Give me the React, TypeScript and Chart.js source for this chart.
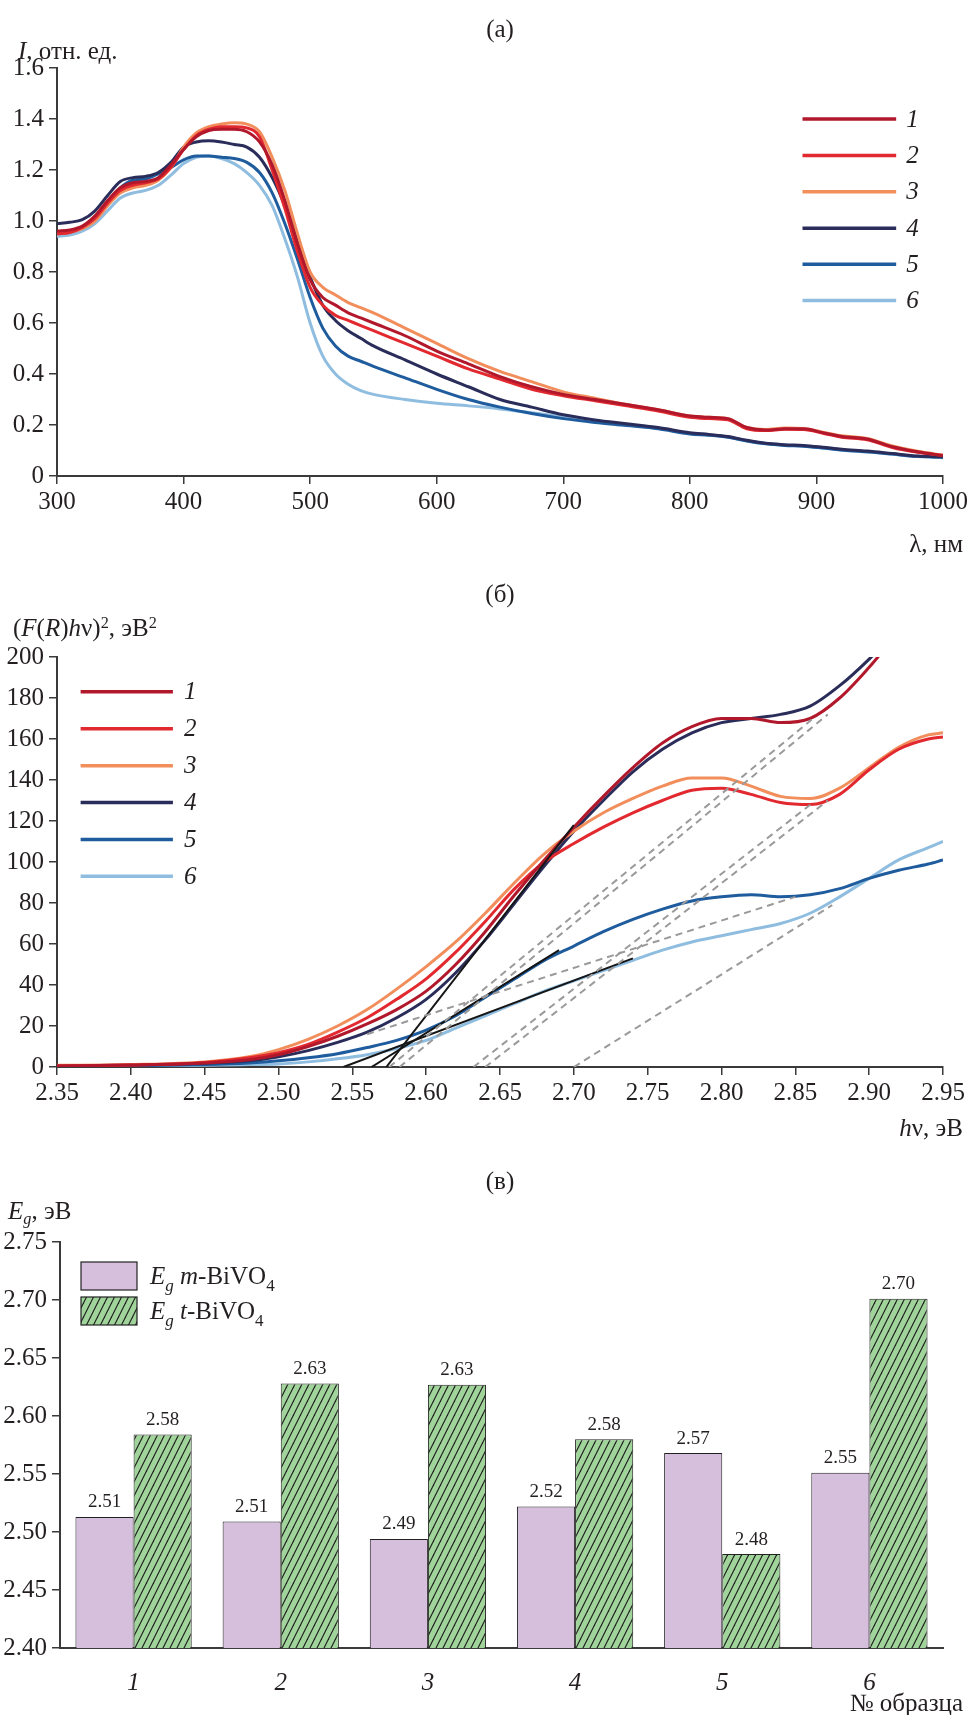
import React, { useEffect, useRef } from "react";
import { Chart, registerables } from "chart.js";

Chart.register(...registerables);

const FONT = "'Liberation Serif', 'Times New Roman', Times, serif";
const INK = "#231f20";
const AXIS = "#3a3a3a";

Chart.defaults.font.family = FONT;
Chart.defaults.color = INK;

// ---------- (а) diffuse reflectance spectra ----------
const wavelengthNm = [300, 310, 320, 330, 340, 350, 360, 370, 380, 390, 400, 410, 420, 430, 440, 450, 460, 470, 480, 490, 500, 510, 520, 530, 540, 550, 575, 600, 625, 650, 675, 700, 725, 750, 775, 800, 815, 830, 845, 860, 875, 890, 905, 920, 940, 960, 980, 1000];
const spectrum1 = [0.96, 0.965, 0.98, 1.02, 1.08, 1.13, 1.15, 1.155, 1.17, 1.22, 1.28, 1.33, 1.355, 1.36, 1.36, 1.35, 1.31, 1.22, 1.08, 0.91, 0.77, 0.70, 0.67, 0.64, 0.62, 0.60, 0.55, 0.49, 0.44, 0.39, 0.35, 0.32, 0.30, 0.28, 0.26, 0.235, 0.23, 0.225, 0.19, 0.18, 0.185, 0.185, 0.17, 0.155, 0.145, 0.115, 0.095, 0.08];
const spectrum2 = [0.95, 0.955, 0.975, 1.01, 1.07, 1.12, 1.14, 1.15, 1.165, 1.21, 1.28, 1.335, 1.36, 1.37, 1.37, 1.365, 1.33, 1.20, 1.05, 0.88, 0.74, 0.67, 0.63, 0.61, 0.59, 0.57, 0.52, 0.47, 0.42, 0.38, 0.34, 0.315, 0.295, 0.275, 0.255, 0.23, 0.225, 0.22, 0.185, 0.178, 0.183, 0.182, 0.168, 0.152, 0.142, 0.112, 0.093, 0.08];
const spectrum3 = [0.95, 0.955, 0.97, 1.0, 1.06, 1.11, 1.13, 1.14, 1.16, 1.21, 1.29, 1.345, 1.37, 1.38, 1.385, 1.38, 1.35, 1.25, 1.12, 0.95, 0.80, 0.74, 0.71, 0.68, 0.66, 0.64, 0.58, 0.52, 0.46, 0.41, 0.37, 0.33, 0.305, 0.28, 0.26, 0.235, 0.23, 0.225, 0.19, 0.182, 0.188, 0.186, 0.172, 0.158, 0.147, 0.118, 0.097, 0.082];
const spectrum4 = [0.99, 0.995, 1.005, 1.04, 1.10, 1.155, 1.17, 1.175, 1.19, 1.23, 1.29, 1.31, 1.315, 1.31, 1.30, 1.29, 1.25, 1.17, 1.06, 0.92, 0.78, 0.67, 0.61, 0.57, 0.54, 0.51, 0.455, 0.40, 0.35, 0.30, 0.27, 0.24, 0.22, 0.205, 0.19, 0.17, 0.163, 0.155, 0.14, 0.128, 0.123, 0.12, 0.113, 0.105, 0.098, 0.088, 0.078, 0.075];
const spectrum5 = [0.955, 0.96, 0.975, 1.01, 1.07, 1.13, 1.16, 1.165, 1.185, 1.21, 1.24, 1.255, 1.255, 1.25, 1.245, 1.23, 1.19, 1.11, 0.99, 0.85, 0.70, 0.58, 0.51, 0.47, 0.45, 0.43, 0.385, 0.34, 0.30, 0.27, 0.245, 0.225, 0.21, 0.198, 0.185, 0.165, 0.16, 0.152, 0.137, 0.126, 0.12, 0.117, 0.11, 0.102, 0.095, 0.086, 0.077, 0.074];
const spectrum6 = [0.94, 0.945, 0.96, 0.99, 1.04, 1.09, 1.11, 1.12, 1.14, 1.18, 1.225, 1.25, 1.255, 1.245, 1.225, 1.19, 1.14, 1.06, 0.93, 0.78, 0.60, 0.47, 0.40, 0.36, 0.335, 0.32, 0.30, 0.285, 0.275, 0.263, 0.248, 0.232, 0.215, 0.20, 0.187, 0.167, 0.161, 0.153, 0.138, 0.127, 0.121, 0.117, 0.11, 0.101, 0.094, 0.085, 0.076, 0.072];

const seriesNames = ["1", "2", "3", "4", "5", "6"];
const seriesColors = ["#b2182b", "#e2292f", "#f28e5c", "#2a2c5a", "#1f5c9e", "#8fbde0"];

// ---------- (б) Tauc plots ----------
const photonEnergyEv = [2.35, 2.40, 2.45, 2.48, 2.50, 2.52, 2.54, 2.56, 2.58, 2.60, 2.62, 2.64, 2.66, 2.68, 2.70, 2.72, 2.74, 2.76, 2.78, 2.80, 2.82, 2.84, 2.86, 2.88, 2.90, 2.92, 2.94, 2.95];
const tauc1 = [0.5, 1, 2, 3.5, 6, 10, 15, 21, 28, 37, 50, 66, 84, 101, 117, 132, 146, 158, 166, 170, 170, 168, 170, 180, 195, 212, 226, 232];
const tauc2 = [0.6, 1, 2.2, 4.5, 7, 11, 17, 24, 33, 43, 56, 71, 87, 100, 109, 117, 124, 130, 135, 136, 133, 129, 128, 133, 145, 155, 160, 161];
const tauc3 = [0.8, 1.2, 2.5, 5, 8.5, 13.5, 20, 28, 38, 49, 61, 75, 90, 104, 115, 124, 131, 137, 141, 141, 137, 132, 131, 136, 146, 156, 162, 163];
const tauc4 = [0.5, 1, 1.8, 3, 5, 8, 12, 17, 24, 33, 46, 62, 80, 98, 115, 130, 144, 155, 163, 168, 170, 172, 176, 186, 199, 214, 228, 234];
const tauc5 = [0.3, 0.6, 1.2, 2, 3, 4.5, 6.5, 9.5, 13, 18, 25, 34, 43, 52, 59, 66, 72, 77, 81, 83, 84, 83, 84, 87, 92, 96, 99, 101];
const tauc6 = [0.2, 0.4, 0.8, 1.2, 1.5, 2.5, 4, 6, 9, 13, 19, 25, 31, 37, 42, 47, 52, 57, 61, 64, 67, 70, 75, 83, 92, 101, 107, 110];

// solid tangents (m-BiVO4 edge)
const mEdgeStartEv = [2.573, 2.563, 2.544];
const mEdgeEndEv = [2.70, 2.69, 2.74];
const mEdgeEndValue = [118, 57, 53];
// dashed tangents (t-BiVO4 edge)
const tEdgeStartEv = [2.575, 2.582, 2.632, 2.640, 2.56, 2.70];
const tEdgeStartValue = [0, 0, 0, 0, 16, 0];
const tEdgeEndEv = [2.862, 2.872, 2.862, 2.872, 2.85, 2.875];
const tEdgeEndValue = [170, 172, 129, 130, 83, 79];

// ---------- (в) band gaps ----------
const sampleLabels = ["1", "2", "3", "4", "5", "6"];
const egMonoclinic = [2.513, 2.509, 2.494, 2.522, 2.568, 2.551];
const egTetragonal = [2.584, 2.628, 2.627, 2.580, 2.481, 2.701];

type Seg = { t: string; i?: boolean; sub?: boolean };

function drawRich(ctx: CanvasRenderingContext2D, segs: Seg[], x: number, y: number, size: number) {
  let cx = x;
  for (const s of segs) {
    const fs = s.sub ? Math.round(size * 0.66) : size;
    ctx.font = `${s.i ? "italic " : ""}${fs}px ${FONT}`;
    ctx.fillText(s.t, cx, y + (s.sub ? size * 0.28 : 0));
    cx += ctx.measureText(s.t).width;
  }
}

function makeLineLegend(rows: number[], x0: number, x1: number, xl: number) {
  return {
    id: "lineLegend",
    afterDatasetsDraw(chart: any) {
      const { ctx } = chart;
      const xs = chart.scales.x;
      const ys = chart.scales.y;
      ctx.save();
      rows.forEach((rv, i) => {
        const ds = chart.data.datasets[i];
        const py = ys.getPixelForValue(rv);
        ctx.setLineDash([]);
        ctx.strokeStyle = ds.borderColor;
        ctx.lineWidth = 3.5;
        ctx.beginPath();
        ctx.moveTo(xs.getPixelForValue(x0), py);
        ctx.lineTo(xs.getPixelForValue(x1), py);
        ctx.stroke();
        ctx.fillStyle = INK;
        ctx.font = `italic 25px ${FONT}`;
        ctx.textAlign = "left";
        ctx.textBaseline = "middle";
        ctx.fillText(ds.label, xs.getPixelForValue(xl), py + 1);
      });
      ctx.restore();
    },
  };
}

function linAxis(min: number, max: number, step: number, fmt: (v: number) => string, fit: number, isX: boolean) {
  return {
    type: "linear" as const,
    min,
    max,
    ticks: {
      stepSize: step,
      color: INK,
      font: { family: FONT, size: 25 },
      padding: isX ? 3 : 5,
      maxRotation: 0,
      autoSkip: false,
      callback: (v: any) => fmt(Number(v)),
    },
    grid: { drawOnChartArea: false, drawTicks: true, tickLength: 8, color: AXIS, lineWidth: 1.5 },
    border: { display: true, color: AXIS, width: 2 },
    afterFit: (s: any) => {
      if (isX) s.height = fit;
      else s.width = fit;
    },
  };
}

function makeHatch(): CanvasPattern | string {
  const c = document.createElement("canvas");
  c.width = 7;
  c.height = 14;
  const g = c.getContext("2d");
  if (!g) return "#a0d49b";
  g.fillStyle = "#a0d49b";
  g.fillRect(0, 0, 7, 14);
  g.strokeStyle = "#1e1e1e";
  g.lineWidth = 1.1;
  for (const off of [-7, 0, 7]) {
    g.beginPath();
    g.moveTo(off - 1, 16);
    g.lineTo(off + 8, -2);
    g.stroke();
  }
  return g.createPattern(c, "repeat") || "#a0d49b";
}

const Label = ({ x, y, align = "left", children, size = 25 }: any) => (
  <div
    style={{
      position: "absolute",
      left: x,
      top: y,
      transform: `translate(${align === "center" ? "-50%" : align === "right" ? "-100%" : "0"}, -50%)`,
      whiteSpace: "nowrap",
      fontFamily: FONT,
      fontSize: size,
      color: INK,
      lineHeight: 1,
    }}
  >
    {children}
  </div>
);

const Sup = ({ children }: any) => (
  <span style={{ fontSize: "0.65em", position: "relative", top: "-0.5em" }}>{children}</span>
);
const Sub = ({ children }: any) => (
  <span style={{ fontSize: "0.65em", position: "relative", top: "0.3em" }}>{children}</span>
);

export default function App() {
  const refA = useRef<HTMLCanvasElement>(null);
  const refB = useRef<HTMLCanvasElement>(null);
  const refC = useRef<HTMLCanvasElement>(null);

  useEffect(() => {
    const charts: Chart[] = [];
    const common = {
      responsive: false,
      animation: false as const,
      events: [] as any[],
    };

    // ----- (а)
    const spectra = [spectrum1, spectrum2, spectrum3, spectrum4, spectrum5, spectrum6];
    if (refA.current) {
      charts.push(
        new Chart(refA.current, {
          type: "line",
          data: {
            datasets: spectra.map((vals, i) => ({
              label: seriesNames[i],
              data: vals.map((v, k) => ({ x: wavelengthNm[k], y: v })),
              borderColor: seriesColors[i],
              borderWidth: 3,
              pointRadius: 0,
              cubicInterpolationMode: "monotone" as const,
              fill: false,
            })),
          },
          options: {
            ...common,
            layout: { autoPadding: false, padding: { top: 68, right: 28, left: 0, bottom: 0 } },
            plugins: { legend: { display: false }, tooltip: { enabled: false } },
            scales: {
              x: linAxis(300, 1000, 100, (v) => String(Math.round(v)), 44, true),
              y: linAxis(0, 1.6, 0.2, (v) => (Math.abs(v) < 1e-9 ? "0" : v.toFixed(1)), 57, false),
            },
          } as any,
          plugins: [makeLineLegend([1.40, 1.257, 1.115, 0.972, 0.83, 0.688], 889, 963, 971)],
        })
      );
    }

    // ----- (б)
    const taucs = [tauc1, tauc2, tauc3, tauc4, tauc5, tauc6];
    if (refB.current) {
      const curveSets = taucs.map((vals, i) => ({
        label: seriesNames[i],
        data: vals.map((v, k) => ({ x: photonEnergyEv[k], y: v })),
        borderColor: seriesColors[i],
        borderWidth: 3,
        pointRadius: 0,
        cubicInterpolationMode: "monotone" as const,
        fill: false,
        order: 2,
      }));
      const solidSets = mEdgeStartEv.map((x0, i) => ({
        label: "m" + i,
        data: [
          { x: x0, y: 0 },
          { x: mEdgeEndEv[i], y: mEdgeEndValue[i] },
        ],
        borderColor: "#151515",
        borderWidth: 2,
        pointRadius: 0,
        tension: 0,
        fill: false,
        order: 1,
      }));
      const dashedSets = tEdgeStartEv.map((x0, i) => ({
        label: "t" + i,
        data: [
          { x: x0, y: tEdgeStartValue[i] },
          { x: tEdgeEndEv[i], y: tEdgeEndValue[i] },
        ],
        borderColor: "#9a9a9a",
        borderWidth: 2,
        borderDash: [7, 5],
        pointRadius: 0,
        tension: 0,
        fill: false,
        order: 0,
      }));
      charts.push(
        new Chart(refB.current, {
          type: "line",
          data: { datasets: [...curveSets, ...solidSets, ...dashedSets] },
          options: {
            ...common,
            layout: { autoPadding: false, padding: { top: 137, right: 28, left: 0, bottom: 0 } },
            plugins: { legend: { display: false }, tooltip: { enabled: false } },
            scales: {
              x: linAxis(2.35, 2.95, 0.05, (v) => v.toFixed(2), 53, true),
              y: linAxis(0, 200, 20, (v) => String(Math.round(v)), 57, false),
            },
          } as any,
          plugins: [makeLineLegend([183, 165, 147, 129, 111, 93], 2.366, 2.4285, 2.436)],
        })
      );
    }

    // ----- (в)
    if (refC.current) {
      const hatch = makeHatch();
      const lavender = "#d6bfdd";
      const valueLabels = {
        id: "valueLabels",
        afterDatasetsDraw(chart: any) {
          const { ctx } = chart;
          ctx.save();
          ctx.fillStyle = INK;
          ctx.font = `19px ${FONT}`;
          ctx.textAlign = "center";
          ctx.textBaseline = "bottom";
          chart.data.datasets.forEach((ds: any, di: number) => {
            chart.getDatasetMeta(di).data.forEach((el: any, k: number) => {
              ctx.fillText(Number(ds.data[k]).toFixed(2), el.x, el.y - 5);
            });
          });
          ctx.restore();
        },
      };
      const barLegend = {
        id: "barLegend",
        afterDatasetsDraw(chart: any) {
          const { ctx, chartArea } = chart;
          const bx = chartArea.left + 21;
          const bw = 56;
          const bh = 28;
          const rows = [
            { top: chartArea.top + 20, fill: lavender, segs: [{ t: "E", i: true }, { t: "g", i: true, sub: true }, { t: " " }, { t: "m", i: true }, { t: "-BiVO" }, { t: "4", sub: true }] },
            { top: chartArea.top + 55, fill: hatch, segs: [{ t: "E", i: true }, { t: "g", i: true, sub: true }, { t: " " }, { t: "t", i: true }, { t: "-BiVO" }, { t: "4", sub: true }] },
          ];
          ctx.save();
          rows.forEach((r) => {
            ctx.fillStyle = r.fill;
            ctx.fillRect(bx, r.top, bw, bh);
            ctx.strokeStyle = "#222";
            ctx.lineWidth = 1.2;
            ctx.strokeRect(bx, r.top, bw, bh);
            ctx.fillStyle = INK;
            ctx.textAlign = "left";
            ctx.textBaseline = "alphabetic";
            drawRich(ctx, r.segs as Seg[], bx + bw + 13, r.top + 22, 25);
          });
          ctx.restore();
        },
      };
      charts.push(
        new Chart(refC.current, {
          type: "bar",
          data: {
            labels: sampleLabels,
            datasets: [
              { label: "m-BiVO4", data: egMonoclinic, backgroundColor: lavender, borderColor: "#222", borderWidth: 1 },
              { label: "t-BiVO4", data: egTetragonal, backgroundColor: hatch as any, borderColor: "#222", borderWidth: 1 },
            ],
          },
          options: {
            ...common,
            layout: { autoPadding: false, padding: { top: 122, right: 28, left: 0, bottom: 0 } },
            datasets: { bar: { categoryPercentage: 0.79, barPercentage: 1 } },
            plugins: { legend: { display: false }, tooltip: { enabled: false } },
            scales: {
              x: {
                type: "category",
                ticks: { color: INK, font: { family: FONT, size: 25, style: "italic" }, padding: 20, maxRotation: 0 },
                grid: { display: false, drawTicks: false },
                border: { display: true, color: AXIS, width: 2 },
                afterFit: (s: any) => {
                  s.height = 67;
                },
              },
              y: linAxis(2.4, 2.75, 0.05, (v) => v.toFixed(2), 60, false),
            },
          } as any,
          plugins: [valueLabels, barLegend],
        })
      );
    }

    return () => charts.forEach((c) => c.destroy());
  }, []);

  return (
    <div style={{ position: "absolute", left: 0, top: 0, width: 971, height: 1715, background: "#fff", overflow: "hidden" }}>
      <canvas ref={refA} width={971} height={520} style={{ position: "absolute", left: 0, top: 0, width: 971, height: 520 }} />
      <canvas ref={refB} width={971} height={600} style={{ position: "absolute", left: 0, top: 520, width: 971, height: 600 }} />
      <canvas ref={refC} width={971} height={595} style={{ position: "absolute", left: 0, top: 1120, width: 971, height: 595 }} />

      <Label x={500} y={28} align="center">(а)</Label>
      <Label x={18} y={50}>
        <i>I</i>, отн. ед.
      </Label>
      <Label x={963} y={543} align="right">λ, нм</Label>

      <Label x={500} y={593} align="center">(б)</Label>
      <Label x={13} y={627}>
        (<i>F</i>(<i>R</i>)<i>h</i>ν)<Sup>2</Sup>, эВ<Sup>2</Sup>
      </Label>
      <Label x={963} y={1127} align="right">
        <i>h</i>ν, эВ
      </Label>

      <Label x={500} y={1180} align="center">(в)</Label>
      <Label x={8} y={1210}>
        <i>E</i>
        <Sub>
          <i>g</i>
        </Sub>
        , эВ
      </Label>
      <Label x={963} y={1702} align="right">№ образца</Label>
    </div>
  );
}
